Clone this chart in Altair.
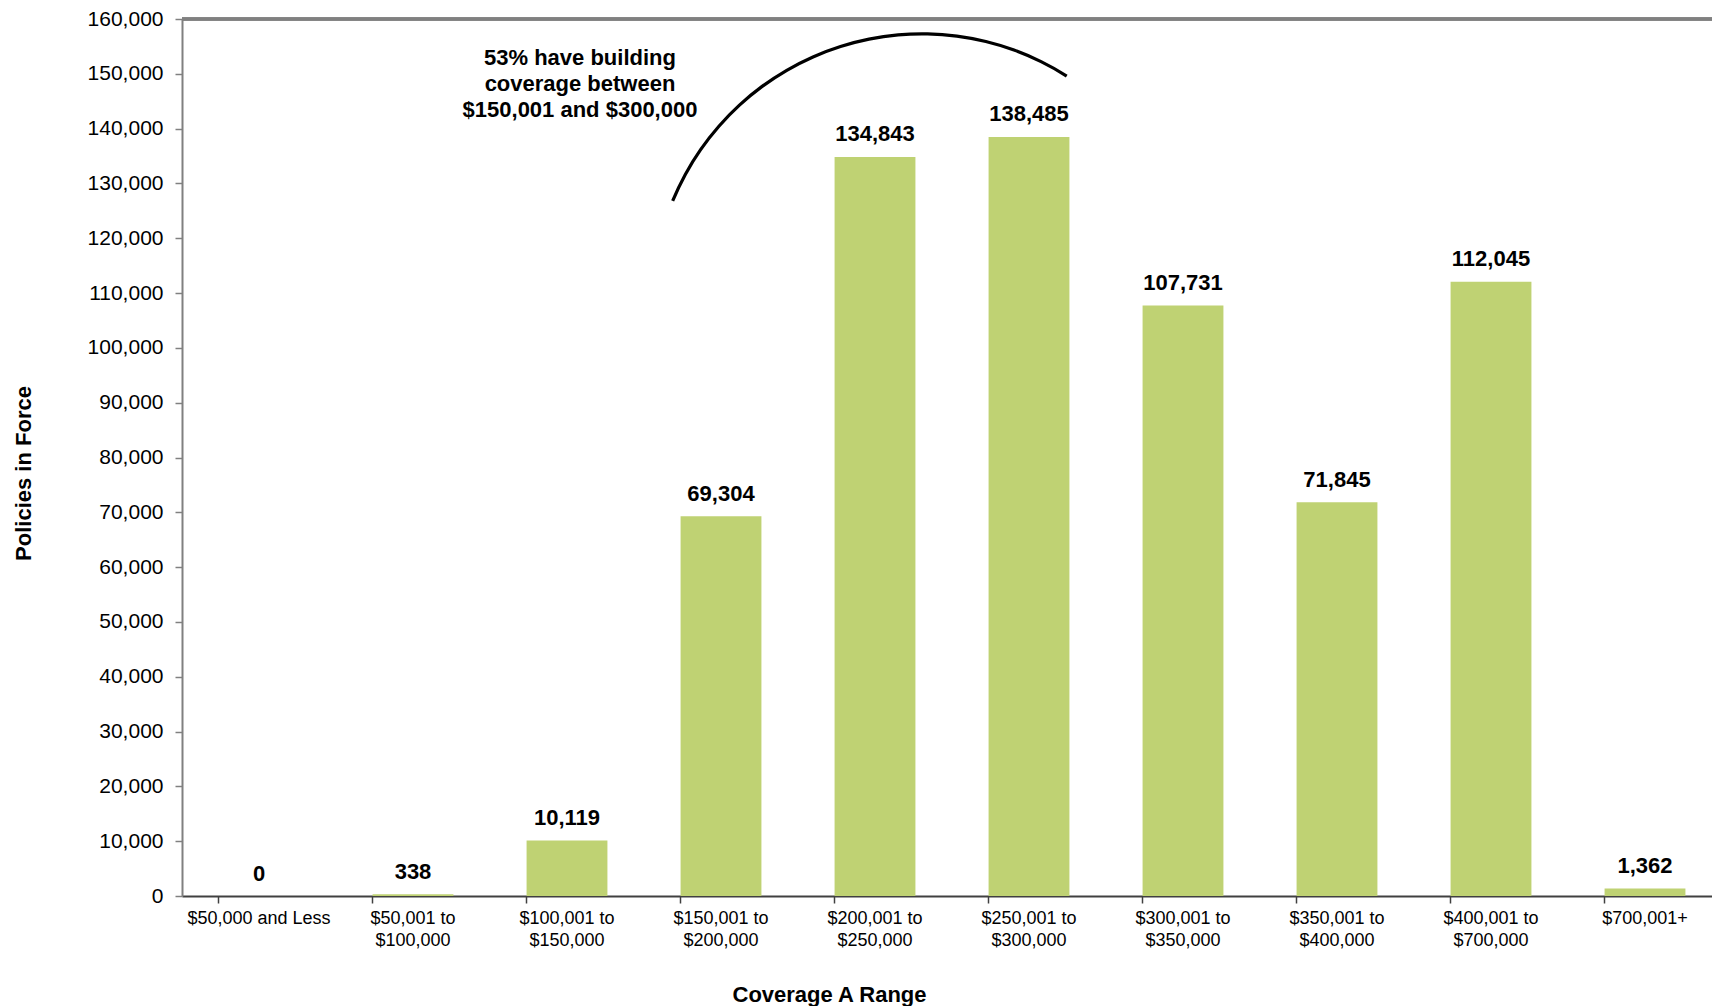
import altair as alt
import pandas as pd

categories = [
    "$50,000 and Less",
    "$50,001 to $100,000",
    "$100,001 to $150,000",
    "$150,001 to $200,000",
    "$200,001 to $250,000",
    "$250,001 to $300,000",
    "$300,001 to $350,000",
    "$350,001 to $400,000",
    "$400,001 to $700,000",
    "$700,001+",
]
policies = [0, 338, 10119, 69304, 134843, 138485, 107731, 71845, 112045, 1362]
y_ticks = list(range(0, 160001, 10000))
annotation_lines = ["53% have building", "coverage between", "$150,001 and $300,000"]

df = pd.DataFrame({"cat": categories, "val": policies})

FONT = "Liberation Sans"
W, H = 1540, 877

x_enc = alt.X(
    "cat:N",
    sort=categories,
    scale=alt.Scale(paddingInner=0.475, paddingOuter=0.2375),
    axis=alt.Axis(
        title="Coverage A Range",
        titleFont=FONT, titleFontSize=22, titleFontWeight="bold", titleColor="black",
        titleX=647, titleY=98, titleBaseline="middle", titleAnchor="start", titleAlign="center",
        labelFont=FONT, labelFontSize=18, labelColor="black", labelAngle=0,
        labelPadding=6, labelLineHeight=22, labelBaseline="top",
        labelExpr="indexof(datum.label, ' to ') > 0 ? [slice(datum.label, 0, indexof(datum.label, ' to ') + 3), slice(datum.label, indexof(datum.label, ' to ') + 4)] : datum.label",
        domainColor="#404040", domainWidth=2,
        tickColor="#404040", tickWidth=1.5, tickSize=7, bandPosition=0,
    ),
)

y_enc = alt.Y(
    "val:Q",
    scale=alt.Scale(domain=[0, 160000], nice=False),
    axis=alt.Axis(
        title="Policies in Force",
        titleFont=FONT, titleFontSize=22, titleFontWeight="bold", titleColor="black",
        titleX=-159, titleY=454, titleBaseline="middle", titleAlign="center", titleAngle=270,
        labelFont=FONT, labelFontSize=21, labelColor="black",
        labelPadding=12, format=",.0f",
        values=y_ticks,
        domainColor="#808080", domainWidth=2,
        tickColor="#808080", tickWidth=1.5, tickSize=7,
        grid=False,
    ),
)

base = alt.Chart(df)

bars = base.mark_bar(color="#BFD273").encode(x=x_enc, y=y_enc)

labels = base.mark_text(
    font=FONT, fontSize=22, fontWeight="bold", color="black",
    baseline="middle", dy=-22.5,
).encode(
    x=alt.X("cat:N", sort=categories),
    y=alt.Y("val:Q"),
    text=alt.Text("val:Q", format=",.0f"),
)

top_rule = alt.Chart(df).mark_rule(color="#808080", strokeWidth=2.5).encode(
    x=alt.value(0), x2=alt.value(W), y=alt.value(0)
)

annot = alt.Chart(pd.DataFrame({"t": [annotation_lines]})).mark_text(
    font=FONT, fontSize=22, fontWeight="bold", color="black",
    align="center", baseline="middle", lineHeight=25.8,
).encode(text="t", x=alt.value(398), y=alt.value(39.3))

arc = alt.Chart(pd.DataFrame({"a": [0]})).mark_arc(
    radius=271.2, radius2=268.0, theta=5.1025, theta2=6.8498, color="black",
).encode(x=alt.value(740), y=alt.value(284.5))

chart = alt.layer(bars, labels, top_rule, annot, arc).properties(
    width=W, height=H,
    autosize=alt.AutoSizeParams(type="none"),
    padding={"left": 174, "top": 11, "right": -10, "bottom": 110},
).configure_view(
    fill="#DDDDDD", stroke=None
).configure(background="white")

chart.save("out.html", embed_options={"renderer": "svg", "actions": False})
